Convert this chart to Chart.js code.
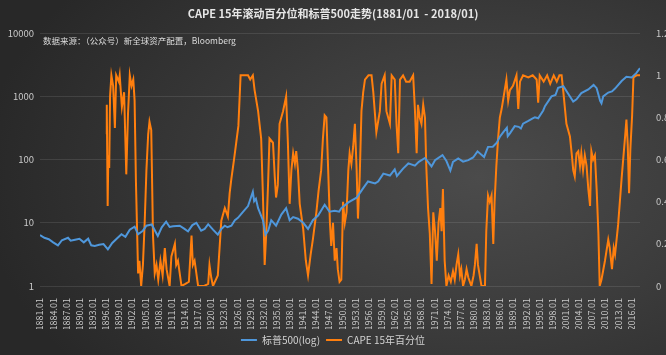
<!DOCTYPE html>
<html>
<head>
<meta charset="utf-8">
<script src="https://cdn.jsdelivr.net/npm/chart.js@4.4.1/dist/chart.umd.min.js"></script>
<style>
html,body{margin:0;padding:0;}
body{width:666px;height:355px;overflow:hidden;background:radial-gradient(ellipse 75% 90% at 72% 50%, #4b4b4b 0%, #3c3c3c 45%, #282828 100%);}
#wrap{position:relative;width:666px;height:355px;}
</style>
</head>
<body>
<div id="wrap"><canvas id="c" width="666" height="355"></canvas></div>
<script>
// ---- data ----
const titleText = 'CAPE 15年滚动百分位和标普500走势(1881/01  - 2018/01)';
const sourceText = '数据来源：（公众号）新全球资产配置，Bloomberg';
const seriesNames = ['标普500(log)', 'CAPE 15年百分位'];

const xTickYears = [1881,1884,1887,1890,1893,1896,1899,1902,1905,1908,1911,1914,1917,1920,1923,1926,1929,1932,1935,1938,1941,1944,1947,1950,1953,1956,1959,1962,1965,1968,1971,1974,1977,1980,1983,1986,1989,1992,1995,1998,2001,2004,2007,2010,2013,2016];
const leftTicks = [1,10,100,1000,10000];

const spxYears = [1881.0,1882.0,1883.0,1884.0,1885.1,1886.0,1887.4,1888.0,1889.0,1890.0,1891.0,1892.0,1892.7,1893.5,1894.5,1895.5,1896.5,1897.5,1898.5,1899.6,1900.5,1901.5,1902.6,1903.4,1904.5,1905.3,1906.5,1907.9,1908.8,1909.8,1910.6,1911.4,1912.9,1914.0,1914.8,1915.8,1916.7,1917.8,1918.6,1919.4,1920.5,1921.6,1922.4,1923.2,1923.8,1924.7,1925.5,1926.2,1927.4,1928.5,1929.6,1929.9,1930.3,1930.8,1931.9,1932.5,1933.1,1933.8,1934.9,1936.1,1937.2,1938.0,1938.8,1939.9,1941.1,1942.2,1943.3,1944.5,1946.0,1947.1,1948.3,1949.3,1949.8,1951.4,1953.3,1954.8,1955.9,1957.5,1958.2,1959.4,1960.9,1962.0,1962.5,1963.9,1965.1,1966.6,1967.5,1968.9,1970.4,1971.2,1972.9,1973.8,1974.7,1975.3,1976.5,1977.6,1978.8,1979.9,1980.9,1982.4,1983.3,1984.4,1985.3,1986.0,1986.75,1987.6,1987.8,1988.3,1989.4,1990.3,1990.8,1991.3,1992.5,1993.5,1994.0,1994.75,1995.9,1996.3,1997.8,1998.7,1999.3,2000.5,2001.6,2002.75,2003.5,2004.6,2006.2,2007.4,2008.1,2008.9,2009.2,2009.6,2010.75,2011.6,2012.3,2013.8,2014.9,2016.1,2017.2,2018.0];
const spxVals = [6.4,5.8,5.5,4.9,4.4,5.3,5.8,5.2,5.4,5.6,4.9,5.6,4.4,4.3,4.5,4.6,3.8,4.8,5.6,6.6,6.0,7.8,8.7,6.6,7.5,9.0,9.4,6.2,8.5,10.4,8.6,8.8,9.0,8.0,7.3,9.2,10.0,7.5,8.0,9.5,7.8,6.5,8.0,9.0,8.5,9.0,11.0,12.0,15.0,18.4,31.0,22,24,17.0,11,6.5,7.5,11.0,9.0,13.5,17.0,11.0,12.3,11.6,10.0,8.0,11.0,13.0,19.3,15.0,15.5,15.0,17.0,21.0,25.0,35.3,45.0,42.0,45.0,60.0,56.0,70.0,55.0,72.0,87.0,80.0,92.0,106.0,78.0,98.0,118.0,95.0,67.0,92.0,104.0,93.0,98.0,108.0,135.0,110.0,159.0,160.0,185.0,230.0,270.0,320.0,235.0,260.0,339.0,330,310.0,370.0,410.0,450,466.0,450.0,600.0,700,1000.0,1050,1370.0,1450.0,1100.0,830.0,900.0,1130.0,1290.0,1520.0,1350.0,850.0,780.0,1000.0,1150.0,1200,1330.0,1750.0,2050.0,2000.0,2350.0,2800.0];

const capeYears = [1896.1,1896.25,1896.45,1896.6,1896.8,1897.0,1897.3,1897.7,1898.1,1898.4,1899.0,1899.2,1899.7,1900.2,1900.7,1901.1,1901.5,1901.9,1902.3,1902.6,1902.9,1903.4,1903.7,1904.1,1904.5,1904.9,1905.3,1905.7,1906.0,1906.4,1906.8,1907.2,1907.6,1908.0,1908.5,1909.0,1909.5,1909.9,1910.6,1911.0,1911.8,1912.1,1912.5,1913.3,1914.2,1915.0,1915.6,1915.9,1916.3,1917.1,1918.5,1919.4,1919.7,1920.1,1920.5,1921.6,1922.0,1922.4,1923.2,1923.9,1924.3,1924.7,1925.3,1925.8,1926.3,1926.8,1928.5,1929.0,1929.6,1930.0,1930.8,1931.5,1931.9,1932.3,1932.7,1933.1,1933.4,1934.2,1934.6,1934.9,1935.3,1935.7,1936.5,1937.2,1937.6,1938.0,1938.4,1938.8,1939.2,1939.5,1939.9,1940.3,1941.1,1941.7,1942.2,1942.8,1943.3,1944.1,1944.6,1945.2,1945.6,1946.0,1946.4,1946.8,1947.2,1947.5,1947.9,1948.3,1948.7,1949.0,1949.4,1949.8,1950.2,1950.6,1951.0,1951.4,1951.7,1952.1,1952.5,1952.9,1953.3,1953.6,1954.0,1954.4,1954.8,1955.2,1956.0,1956.7,1957.1,1957.8,1958.2,1958.6,1959.0,1959.7,1960.1,1960.9,1961.3,1962.0,1962.4,1962.8,1963.2,1963.9,1964.6,1965.4,1966.2,1966.6,1967.0,1967.3,1967.7,1968.1,1968.5,1968.9,1969.2,1969.6,1970.0,1970.4,1970.8,1971.2,1971.6,1972.0,1972.4,1972.7,1973.0,1973.4,1973.8,1974.3,1974.8,1975.3,1975.7,1976.1,1976.5,1976.9,1977.2,1977.6,1978.0,1978.4,1978.8,1979.5,1980.0,1980.3,1980.7,1981.0,1981.8,1982.6,1982.9,1983.3,1983.7,1984.1,1984.5,1984.8,1985.2,1985.6,1986.0,1986.4,1986.8,1987.5,1987.9,1988.3,1989.0,1989.8,1990.2,1990.6,1991.3,1992.5,1993.5,1994.4,1994.75,1995.1,1996.0,1996.8,1997.5,1998.3,1999.0,1999.6,2000.1,2000.5,2001.2,2002.0,2002.4,2002.75,2003.1,2003.5,2003.9,2004.3,2004.6,2005.0,2005.4,2005.8,2006.2,2006.6,2006.9,2007.3,2007.7,2008.1,2008.5,2008.8,2009.2,2010.0,2010.75,2011.1,2011.6,2012.0,2012.3,2013.0,2013.8,2014.6,2014.9,2015.2,2015.5,2015.8,2016.2,2016.5,2017.2,2018.0];
const capeVals = [0.72,0.86,0.38,0.62,0.56,0.90,1.00,0.95,0.75,1.00,0.97,1.00,0.85,0.92,0.53,0.82,1.00,0.95,0.98,0.88,0.50,0.06,0.12,0.00,0.10,0.30,0.55,0.72,0.78,0.74,0.24,0.06,0.10,0.03,0.12,0.05,0.18,0.08,0.00,0.14,0.20,0.10,0.12,0.00,0.01,0.02,0.24,0.10,0.12,0.00,0.00,0.01,0.10,0.04,0.00,0.05,0.18,0.31,0.37,0.33,0.44,0.51,0.60,0.68,0.76,1.00,1.00,0.98,1.00,0.93,0.83,0.70,0.43,0.10,0.27,0.50,0.70,0.68,0.52,0.42,0.48,0.77,0.83,0.90,0.68,0.39,0.55,0.63,0.58,0.64,0.55,0.39,0.27,0.12,0.05,0.15,0.22,0.35,0.45,0.55,0.70,0.81,0.80,0.55,0.30,0.19,0.30,0.12,0.18,0.08,0.02,0.03,0.40,0.30,0.35,0.55,0.63,0.58,0.66,0.77,0.55,0.32,0.52,0.83,0.92,0.98,1.00,1.00,0.92,0.73,0.78,0.83,0.96,1.00,0.83,0.77,1.00,0.98,0.77,0.63,0.98,1.00,0.97,0.97,1.00,0.84,0.63,0.86,0.80,0.77,0.86,0.80,0.57,0.37,0.25,0.01,0.35,0.26,0.12,0.30,0.37,0.26,0.46,0.12,0.00,0.05,0.02,0.07,0.03,0.10,0.15,0.05,0.08,0.00,0.03,0.08,0.04,0.00,0.05,0.10,0.20,0.10,0.00,0.00,0.26,0.43,0.40,0.43,0.20,0.40,0.57,0.70,0.80,0.84,0.89,0.98,0.88,0.93,0.95,1.00,0.84,0.97,1.00,0.99,1.00,0.98,0.87,1.00,0.97,1.00,0.96,1.00,0.97,1.00,1.00,0.92,0.77,0.71,0.63,0.55,0.52,0.63,0.64,0.57,0.63,0.55,0.62,0.57,0.46,0.38,0.64,0.60,0.62,0.46,0.25,0.00,0.03,0.12,0.22,0.18,0.08,0.18,0.15,0.29,0.51,0.71,0.79,0.67,0.44,0.65,0.81,0.99,1.00,1.00];

// ---- chart ----
const FONT = '"Noto Sans CJK SC", "Noto Sans", sans-serif';
const TXT = '#c9c9c9';

const sourcePlugin = {
  id: 'sourceNote',
  afterDraw(chart) {
    const ctx = chart.ctx;
    ctx.save();
    ctx.font = '8.5px ' + FONT;
    ctx.fillStyle = '#dcdcdc';
    ctx.textBaseline = 'middle';
    ctx.textAlign = 'left';
    ctx.fillText(sourceText, chart.chartArea.left + 3, chart.chartArea.top + 8);
    ctx.restore();
  }
};

new Chart(document.getElementById('c'), {
  type: 'line',
  data: {
    datasets: [
      {
        label: seriesNames[0],
        data: spxYears.map((x, i) => ({x, y: spxVals[i]})),
        yAxisID: 'yL',
        borderColor: '#4f97db',
        backgroundColor: '#4f97db',
        borderWidth: 2,
        pointRadius: 0,
        tension: 0
      },
      {
        label: seriesNames[1],
        data: capeYears.map((x, i) => ({x, y: capeVals[i]})),
        yAxisID: 'yR',
        borderColor: '#ff7f0e',
        backgroundColor: '#ff7f0e',
        borderWidth: 2,
        pointRadius: 0,
        tension: 0
      }
    ]
  },
  options: {
    responsive: false,
    animation: false,
    devicePixelRatio: 1,
    layout: { padding: { left: 0, right: 0, top: 0, bottom: 0 } },
    plugins: {
      title: {
        display: true,
        text: titleText,
        color: '#e6e6e6',
        font: { family: FONT, size: 11, weight: 'bold' },
        padding: { top: 7, bottom: 13 }
      },
      legend: {
        position: 'bottom',
        labels: {
          color: '#d2d2d2',
          font: { family: FONT, size: 10 },
          usePointStyle: true,
          pointStyle: 'line',
          pointStyleWidth: 16,
          boxWidth: 16,
          boxHeight: 10,
          padding: 6
        }
      },
      tooltip: { enabled: false }
    },
    scales: {
      x: {
        type: 'linear',
        min: 1881,
        max: 2018,
        grid: { display: false },
        border: { display: false },
        afterBuildTicks: s => { s.ticks = xTickYears.map(v => ({ value: v })); },
        afterFit: s => { s.height = 43; },
        ticks: {
          color: TXT,
          font: { family: FONT, size: 9 },
          minRotation: 90,
          maxRotation: 90,
          autoSkip: false,
          padding: 4,
          callback: v => v + '.01'
        }
      },
      yL: {
        type: 'logarithmic',
        position: 'left',
        min: 1,
        max: 10000,
        grid: { color: 'rgba(255,255,255,0.10)', drawTicks: false },
        border: { display: false },
        afterBuildTicks: s => { s.ticks = leftTicks.map(v => ({ value: v })); },
        afterFit: s => { s.width = 40; },
        ticks: {
          color: TXT,
          font: { family: FONT, size: 9.5 },
          padding: 6,
          callback: v => String(v)
        }
      },
      yR: {
        type: 'linear',
        position: 'right',
        min: 0,
        max: 1.2,
        grid: { display: false },
        border: { display: false },
        afterFit: s => { s.width = 26; },
        ticks: {
          color: TXT,
          font: { family: FONT, size: 9.5 },
          stepSize: 0.2,
          padding: 8,
          callback: v => String(Math.round(v * 10) / 10)
        }
      }
    }
  },
  plugins: [sourcePlugin]
});
</script>
</body>
</html>
